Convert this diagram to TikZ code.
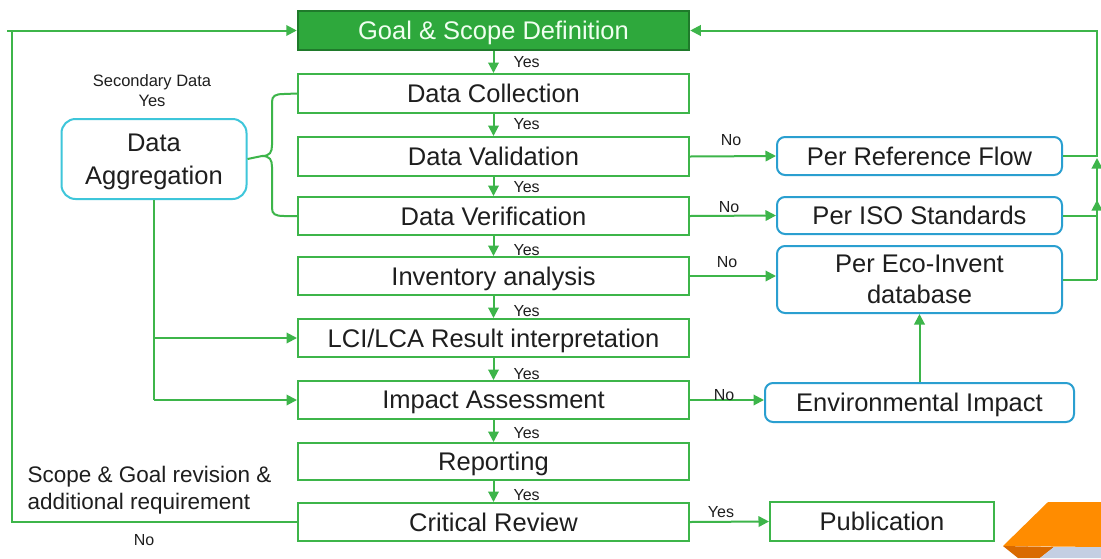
\documentclass[tikz,border=0pt]{standalone}
\usepackage{fontspec}
\setmainfont{Liberation Sans}
\usetikzlibrary{arrows.meta}
\definecolor{lgreen}{HTML}{3DB54A}
\definecolor{gfill}{HTML}{2EA83C}
\definecolor{gborder}{HTML}{1F7A2B}
\definecolor{cyanb}{HTML}{3EC6DA}
\definecolor{blueb}{HTML}{2A9FD0}
\definecolor{txt}{HTML}{1E1E1E}
\definecolor{orangeA}{HTML}{FF8C00}
\definecolor{orangeB}{HTML}{D96A00}
\definecolor{greyblue}{HTML}{C4CFE3}
\begin{document}
\begin{tikzpicture}[x=1pt,y=-1pt,
  big/.style={font=\fontsize{25.5}{30}\selectfont, text=txt, text depth=0pt},
  small/.style={font=\fontsize{16}{20}\selectfont, text=txt},
  stage/.style={big, draw=lgreen, line width=2pt, fill=white,
    minimum width=391pt, inner sep=0pt},
  sidebox/.style={big, draw=blueb, line width=2pt, fill=white,
    rounded corners=8pt, inner sep=0pt, align=center},
  link/.style={draw=lgreen, line width=2pt},
  flow/.style={link, -{Triangle[length=10.5pt,width=10.5pt]}}]

\useasboundingbox (0,0) rectangle (1101,558);
\fill[white] (0,0) rectangle (1101,558);

% main column of stages
\node[stage, fill=gfill, draw=gborder, line width=2.5pt, text=white!94!green,
      minimum height=39pt] (goal) at (493.5,30.5) {Goal \& Scope Definition};
\node[stage, minimum height=39pt] (dc)   at (493.5,93.5)  {Data Collection};
\node[stage, minimum height=39pt] (dv)   at (493.5,156.5) {Data Validation};
\node[stage, minimum height=38pt] (dver) at (493.5,216)   {Data Verification};
\node[stage, minimum height=38pt] (inv)  at (493.5,276)   {Inventory analysis};
\node[stage, minimum height=38pt] (lci)  at (493.5,338)   {LCI/LCA Result interpretation};
\node[stage, minimum height=38pt] (imp)  at (493.5,400)   {Impact Assessment};
\node[stage, minimum height=37pt] (rep)  at (493.5,461.5) {Reporting};
\node[stage, minimum height=38pt] (cr)   at (493.5,522)   {Critical Review};

% side boxes
\node[sidebox, draw=cyanb, rounded corners=14pt, minimum width=185pt,
      minimum height=80pt, font=\fontsize{25.5}{33}\selectfont]
      (agg) at (154,159) {Data\\Aggregation};
\node[sidebox, minimum width=285pt, minimum height=38pt] (ref) at (919.5,156) {Per Reference Flow};
\node[sidebox, minimum width=285pt, minimum height=37pt] (iso) at (919.5,215.5) {Per ISO Standards};
\node[sidebox, minimum width=285pt, minimum height=67pt, text depth=-6pt,
      font=\fontsize{25.5}{31}\selectfont] (eco) at (919.5,279.5) {Per Eco-Invent\\database};
\node[sidebox, minimum width=309pt, minimum height=39pt] (env) at (919.5,402.5) {Environmental Impact};
\node[stage, minimum width=224pt, minimum height=39pt] (pub) at (882,521.5) {Publication};

% downward flow through the stages
\foreach \a/\b in {goal/dc, dc/dv, dv/dver, dver/inv, inv/lci, lci/imp, imp/rep, rep/cr}
  \draw[flow] (\a.south) -- (\b.north);
\foreach \y in {62,124,187,250,311,374,433,495}
  \node[small, anchor=west] at (510,\y) {Yes};

% brace from the aggregation box
\draw[link] (agg.east) -- (262,156) .. controls (270,156) and (272,152) .. (272,145)
  -- (272,102) .. controls (272,96) and (275,94) .. (284,94) -- (dc.west);
\draw[link] (262,156) .. controls (270,156) and (272,160) .. (272,167)
  -- (272,208) .. controls (272,214) and (275,216) .. (284,216) -- (dver.west);
\node[small, align=center, font=\fontsize{16.5}{20}\selectfont] (sec) at (152,91) {Secondary Data\\Yes};

% aggregation feeding interpretation and assessment
\draw[link] (agg.south) -- (agg.south |- imp.west);
\draw[flow] (agg.south |- lci.west) -- (lci.west);
\draw[flow] (agg.south |- imp.west) -- (imp.west);

% "No" branches to the right
\draw[flow] (dv.east) -- (ref.west);
\node[small] at (731,140) {No};
\draw[flow] (dver.east) -- (iso.west);
\node[small] at (729,207) {No};
\draw[flow] (inv.east) -- (eco.west |- inv.east);
\node[small] at (727,262) {No};
\draw[flow] (imp.east) -- (env.west |- imp.east);
\node[small] at (724,395) {No};
\draw[flow] (env.north) -- (eco.south);
\draw[flow] (cr.east) -- (pub.west);
\node[small] at (721,512) {Yes};

% return loop on the right
\coordinate (rtop) at (1097,30.5);
\draw[link] (eco.east) -- (1097,279.5);
\draw[flow] (1097,279.5) -- (1097,200);
\draw[link] (iso.east) -- (1097,215.5);
\draw[flow] (1097,215.5) -- (1097,158);
\draw[flow] (ref.east) -- (1097,156) -- (rtop) -- (goal.east);

% return loop on the left
\coordinate (ltop) at (12,30.5);
\draw[flow] (cr.west) -- (12,522) -- (ltop) -- (goal.west);
\draw[link] (7,30.5) -- (ltop);
\node[font=\fontsize{22.5}{27}\selectfont, text=txt, align=left, anchor=north west]
  (rev) at (24,463) {Scope \& Goal revision \&\\additional requirement};
\node[small] at (144,540) {No};

% corner ornament
\fill[orangeA] (1048,502) -- (1101,502) -- (1101,547) -- (1003,546) -- cycle;
\fill[orangeB] (1003,546) -- (1054,547) -- (1040,558) -- (1018,558) -- cycle;
\fill[greyblue] (1054,547) -- (1101,547) -- (1101,558) -- (1040,558) -- cycle;
\end{tikzpicture}
\end{document}
